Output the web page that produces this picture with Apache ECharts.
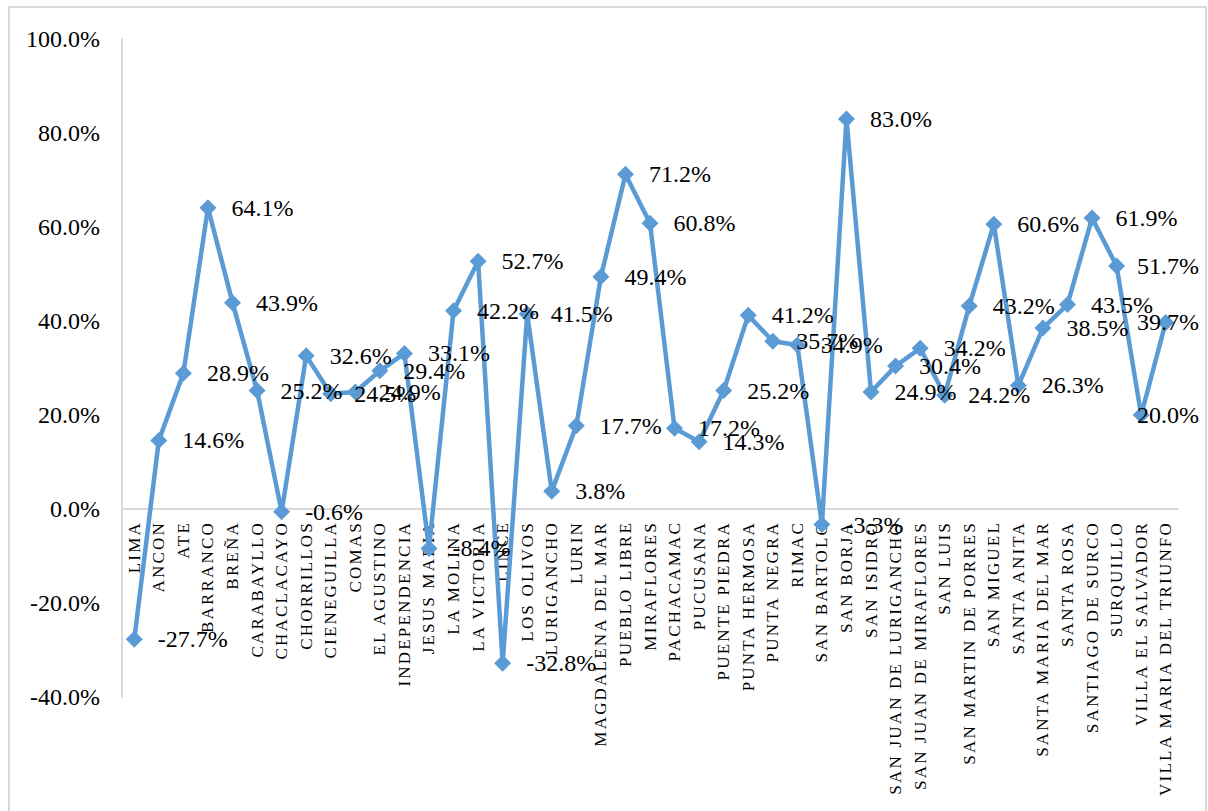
<!DOCTYPE html>
<html>
<head>
<meta charset="utf-8">
<title>Variación por distrito</title>
<script src="https://cdn.jsdelivr.net/npm/echarts@6/dist/echarts.min.js"></script>
<style>
  html, body { margin: 0; padding: 0; background: #fff; }
  #chart { width: 1208px; height: 811px; }
</style>
</head>
<body>
<div id="chart"></div>
<script>
// Districts of Lima and their percentage change
const districts = [
  'LIMA', 'ANCON', 'ATE', 'BARRANCO', 'BREÑA', 'CARABAYLLO', 'CHACLACAYO',
  'CHORRILLOS', 'CIENEGUILLA', 'COMAS', 'EL AGUSTINO', 'INDEPENDENCIA',
  'JESUS MARIA', 'LA MOLINA', 'LA VICTORIA', 'LINCE', 'LOS OLIVOS',
  'LURIGANCHO', 'LURIN', 'MAGDALENA DEL MAR', 'PUEBLO LIBRE', 'MIRAFLORES',
  'PACHACAMAC', 'PUCUSANA', 'PUENTE PIEDRA', 'PUNTA HERMOSA', 'PUNTA NEGRA',
  'RIMAC', 'SAN BARTOLO', 'SAN BORJA', 'SAN ISIDRO', 'SAN JUAN DE LURIGANCHO',
  'SAN JUAN DE MIRAFLORES', 'SAN LUIS', 'SAN MARTIN DE PORRES', 'SAN MIGUEL',
  'SANTA ANITA', 'SANTA MARIA DEL MAR', 'SANTA ROSA', 'SANTIAGO DE SURCO',
  'SURQUILLO', 'VILLA EL SALVADOR', 'VILLA MARIA DEL TRIUNFO'
];

const changePct = [
  -27.7, 14.6, 28.9, 64.1, 43.9, 25.2, -0.6,
  32.6, 24.5, 24.9, 29.4, 33.1,
  -8.4, 42.2, 52.7, -32.8, 41.5,
  3.8, 17.7, 49.4, 71.2, 60.8,
  17.2, 14.3, 25.2, 41.2, 35.7,
  34.9, -3.3, 83.0, 24.9, 30.4,
  34.2, 24.2, 43.2, 60.6,
  26.3, 38.5, 43.5, 61.9,
  51.7, 20.0, 39.7
];

const yTicks = { min: -40, max: 100, step: 20 };

const pct = v => Number(v).toFixed(1) + '%';
const SERIF = 'Liberation Serif';
const categorySet = new Set(districts);
const LABEL_RIGHT_LIMIT = 1199;

const W = 1208, H = 811;
const grid = { left: 122, right: 30, top: 39, bottom: 114 };
// the category axis sits on the 0% line: lift it by the share of the plot below zero
const plotHeight = H - grid.top - grid.bottom;
const zeroLift = plotHeight * (0 - yTicks.min) / (yTicks.max - yTicks.min);

const chart = echarts.init(document.getElementById('chart'), null, { renderer: 'svg' });

chart.setOption({
  animation: false,
  backgroundColor: '#ffffff',
  graphic: [{
    type: 'rect',
    silent: true,
    shape: { x: 9, y: 7, width: 1197, height: 820 },
    style: { fill: 'none', stroke: '#d9d9d9', lineWidth: 2 }
  }],
  grid: Object.assign({ outerBoundsMode: 'none', containLabel: false }, grid),
  xAxis: {
    type: 'category',
    data: districts,
    boundaryGap: true,
    position: 'bottom',
    offset: -zeroLift,
    axisLine: { onZero: false, lineStyle: { color: '#d9d9d9', width: 2 } },
    axisTick: { show: false },
    axisLabel: {
      interval: 0,
      rotate: 90,
      margin: 12,
      color: '#000',
      fontFamily: SERIF,
      fontSize: 17
    },
    splitLine: { show: false }
  },
  yAxis: {
    type: 'value',
    min: yTicks.min,
    max: yTicks.max,
    interval: yTicks.step,
    axisLine: { show: true, lineStyle: { color: '#d9d9d9', width: 2 } },
    axisTick: { show: false },
    splitLine: { show: false },
    axisLabel: {
      margin: 22,
      color: '#000',
      fontFamily: SERIF,
      fontSize: 24,
      formatter: v => pct(v)
    }
  },
  series: [{
    type: 'line',
    data: changePct,
    symbol: 'diamond',
    symbolSize: 17,
    showAllSymbol: true,
    lineStyle: { color: '#5b9bd5', width: 4.5 },
    itemStyle: { color: '#5b9bd5' },
    label: {
      show: true,
      position: 'right',
      distance: 15,
      color: '#000',
      fontFamily: SERIF,
      fontSize: 24,
      formatter: p => pct(p.value)
    },
    // keep value labels inside the chart frame on the right
    labelLayout: p => {
      const r = p.labelRect;
      if (r.x + r.width > LABEL_RIGHT_LIMIT) {
        return {
          x: LABEL_RIGHT_LIMIT - r.width,
          y: r.y + r.height / 2,
          align: 'left',
          verticalAlign: 'middle',
          hideOverlap: false
        };
      }
      return { hideOverlap: false };
    }
  }]
});

// Spread the letters of the district names a little
function spaceCategoryLabels() {
  chart.getDom().querySelectorAll('text').forEach(t => {
    if (categorySet.has(t.textContent.trim())) {
      t.setAttribute('letter-spacing', '2.2');
    }
  });
}
chart.on('finished', spaceCategoryLabels);
spaceCategoryLabels();
</script>
</body>
</html>
